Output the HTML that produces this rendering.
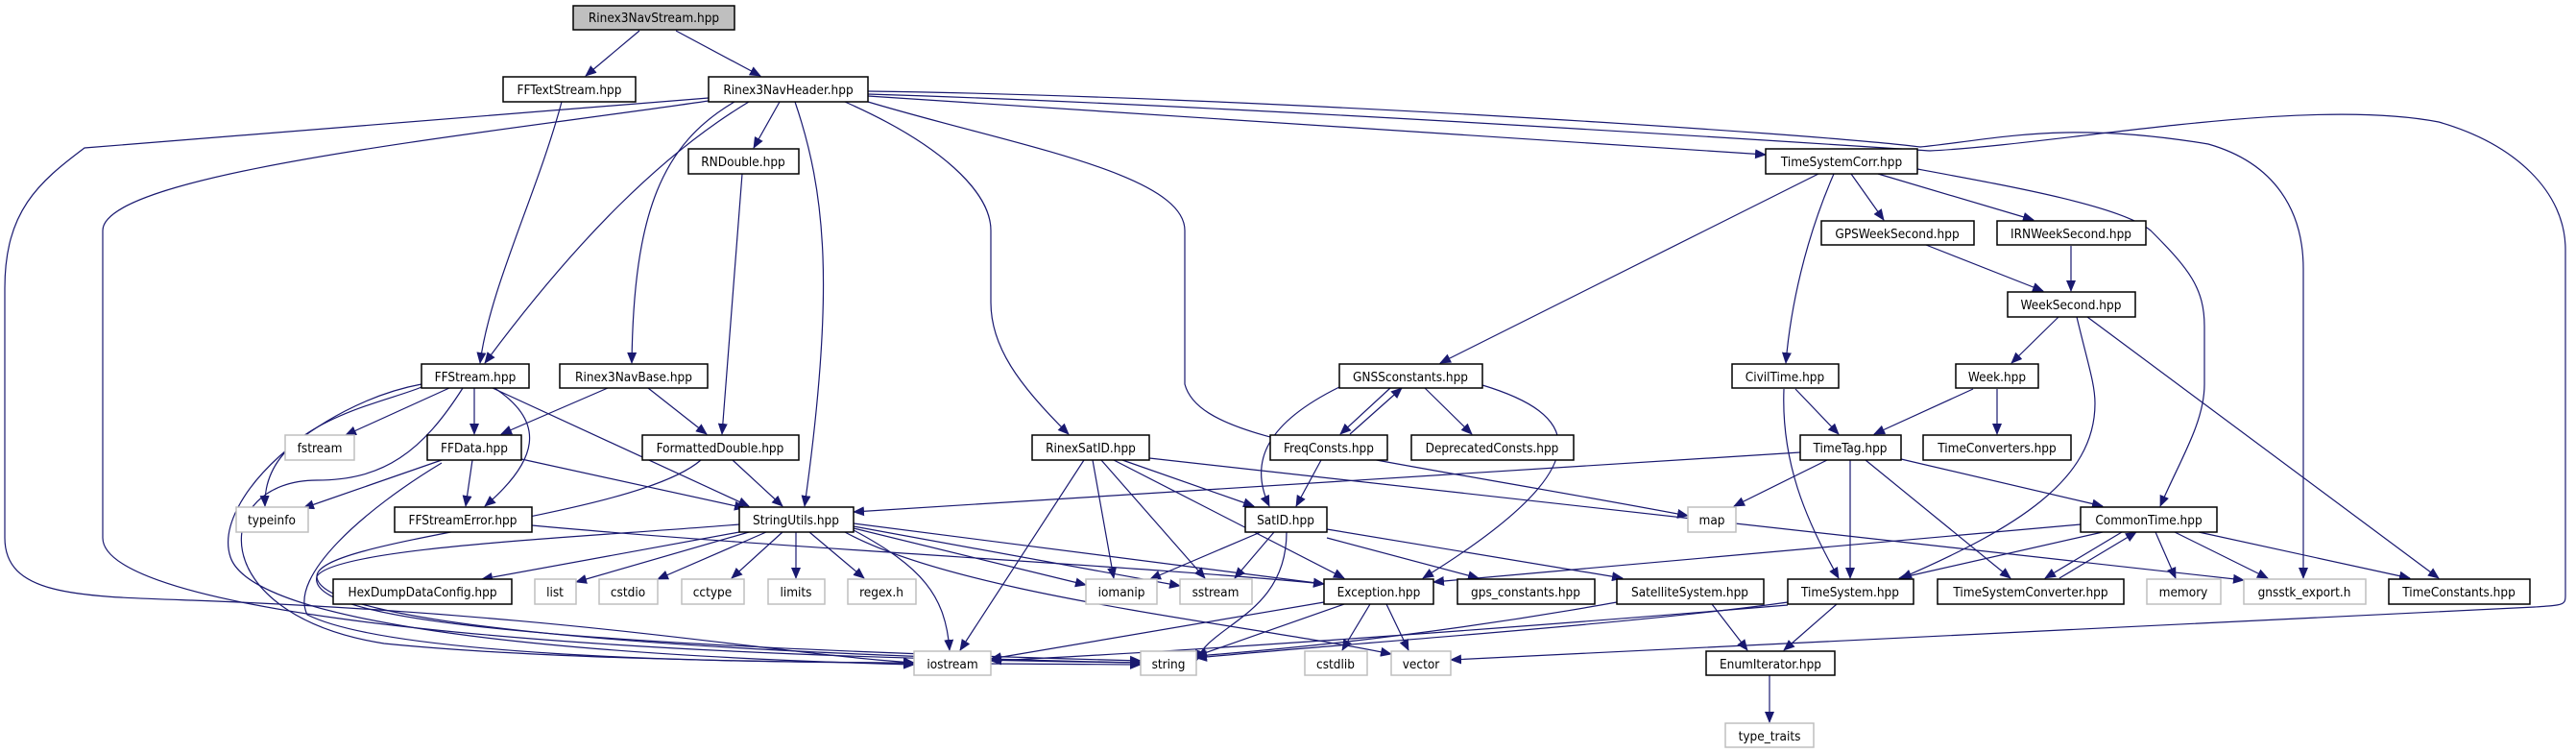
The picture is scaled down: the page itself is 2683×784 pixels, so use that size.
<!DOCTYPE html>
<html><head><meta charset="utf-8"><style>
html,body{margin:0;padding:0;background:#fff;width:2683px;height:784px;overflow:hidden}
svg text{font-family:"DejaVu Sans Condensed","Liberation Sans Narrow","Liberation Sans",sans-serif;font-size:13.5px;text-anchor:middle;fill:#000}
.n{fill:#fff;stroke:#000;stroke-width:1.5}
.g{fill:#fff;stroke:#bfbfbf;stroke-width:1.5}
.e{fill:none;stroke:#191970;stroke-width:1.2}
</style></head><body>
<svg width="2683" height="784" viewBox="0 0 2683 784" xmlns="http://www.w3.org/2000/svg">
<defs><marker id="a" markerWidth="12" markerHeight="10" refX="11" refY="5" orient="auto" markerUnits="userSpaceOnUse"><path d="M0,0 L12,5 L0,10 z" fill="#191970"/></marker></defs>
<g class="e" marker-end="url(#a)">
<path d="M666,32 L610,79"/>
<path d="M704,32 L792,79"/>
<path d="M585,106 C560,200 510,300 500,378"/>
<path d="M780,106 C690,160 600,250 505,378"/>
<path d="M812,106 L785,154"/>
<path d="M765,106 C690,150 660,220 658,378"/>
<path d="M828,106 C860,200 870,300 838,527"/>
<path d="M738,102 L88,154 C40,190 5,220 5,300 L5,560 C5,620 80,621 200,625 C600,640 800,680 952,690"/>
<path d="M738,105 C500,140 107,180 107,240 L107,560 C107,620 400,680 1188,690"/>
<path d="M880,106 C980,150 1032,200 1032,240 L1032,315 C1032,360 1060,400 1113,452"/>
<path d="M904,106 C1050,150 1234,180 1234,240 L1234,400 C1250,460 1400,470 1758,537"/>
<path d="M904,100 L1839,161"/>
<path d="M904,95 C1300,100 1900,140 2000,153 C2080,145 2150,125 2300,150 C2370,170 2399,220 2399,280 L2399,602"/>
<path d="M904,98 C1300,110 1900,150 2010,157 C2150,150 2400,100 2540,127 C2620,150 2672,200 2672,260 L2672,620 C2672,630 2670,630 2640,632 L1511,687"/>
<path d="M1894,181 L1500,378"/>
<path d="M1910,181 C1880,250 1865,320 1860,378"/>
<path d="M1928,181 L1962,229"/>
<path d="M1956,181 L2118,229"/>
<path d="M1997,176 C2100,195 2210,215 2240,240 C2280,280 2296,300 2296,340 L2296,400 C2296,440 2270,480 2250,527"/>
<path d="M2006,255 L2128,303"/>
<path d="M2157,256 L2157,303"/>
<path d="M2144,330 L2095,378"/>
<path d="M2163,330 C2175,380 2182,400 2182,420 C2182,500 2100,550 1980,602"/>
<path d="M2174,330 L2540,602"/>
<path d="M1870,405 L1915,452"/>
<path d="M1858,405 C1855,480 1880,540 1915,602"/>
<path d="M2055,405 L1952,452"/>
<path d="M2080,405 L2080,452"/>
<path d="M1903,479 L1806,527"/>
<path d="M1927,479 L1927,602"/>
<path d="M1943,479 L2094,602"/>
<path d="M1980,478 L2190,527"/>
<path d="M1875,471 L889,533"/>
<path d="M2167,546 L1493,606"/>
<path d="M2190,554 L1978,602"/>
<path d="M2210,554 L2130,602"/>
<path d="M2145,602 L2225,554"/>
<path d="M2245,554 L2266,602"/>
<path d="M2265,554 L2362,602"/>
<path d="M2290,554 L2510,602"/>
<path d="M1913,629 L1858,677"/>
<path d="M1862,627 C1700,650 1400,670 1246,685"/>
<path d="M1862,630 C1500,660 1200,680 1032,688"/>
<path d="M1783,629 L1820,677"/>
<path d="M1684,627 C1500,660 1350,675 1246,683"/>
<path d="M1379,627 L1032,686"/>
<path d="M1400,629 L1246,683"/>
<path d="M1427,629 L1398,677"/>
<path d="M1444,629 L1467,677"/>
<path d="M1843,703 L1843,752"/>
<path d="M1448,404 L1396,452"/>
<path d="M1406,452 L1460,404"/>
<path d="M1484,404 L1533,452"/>
<path d="M1395,403 C1320,440 1300,480 1322,527"/>
<path d="M1544,401 C1640,430 1680,480 1482,602"/>
<path d="M1376,479 L1350,527"/>
<path d="M1169,479 L1306,527"/>
<path d="M1129,479 L1000,677"/>
<path d="M1138,479 L1160,602"/>
<path d="M1147,479 L1255,602"/>
<path d="M1160,479 L1400,602"/>
<path d="M1197,477 L2337,604"/>
<path d="M1313,554 L1198,603"/>
<path d="M1327,554 L1286,602"/>
<path d="M1340,554 C1340,640 1260,650 1246,688"/>
<path d="M1382,560 L1540,602"/>
<path d="M1382,551 L1690,602"/>
<path d="M770,554 L502,603"/>
<path d="M780,554 L600,606"/>
<path d="M798,554 L685,603"/>
<path d="M815,554 L762,602"/>
<path d="M829,554 L829,602"/>
<path d="M843,554 L900,602"/>
<path d="M889,550 L1131,609"/>
<path d="M889,548 L1229,610"/>
<path d="M889,545 L1379,608"/>
<path d="M889,552 C960,590 985,620 989,677"/>
<path d="M880,554 C1000,620 1300,650 1449,681"/>
<path d="M770,546 C600,560 350,570 330,600 C320,640 500,670 1188,688"/>
<path d="M468,404 L360,453"/>
<path d="M494,404 L494,452"/>
<path d="M439,403 C400,420 273,440 276,527"/>
<path d="M515,404 C570,440 560,480 505,527"/>
<path d="M513,404 L780,527"/>
<path d="M439,400 C330,420 220,520 240,580 C260,640 500,680 952,692"/>
<path d="M482,404 C440,470 400,500 330,500 C220,500 210,640 400,670 C600,690 900,690 1188,692"/>
<path d="M633,404 L522,452"/>
<path d="M675,404 L736,452"/>
<path d="M773,181 L752,452"/>
<path d="M460,479 L316,529"/>
<path d="M492,479 L485,527"/>
<path d="M543,478 L776,529"/>
<path d="M460,482 C380,530 300,600 320,640 C400,680 700,690 952,690"/>
<path d="M763,479 L815,527"/>
<path d="M730,479 C660,540 330,560 330,600 C330,650 700,680 1188,690"/>
<path d="M554,547 C800,570 1200,590 1379,608"/>
</g>
<g>
<rect x="597" y="6" width="168" height="25" fill="#bfbfbf" stroke="#000" stroke-width="1.5"/><text x="681" y="23">Rinex3NavStream.hpp</text>
<rect class="n" x="524" y="80" width="138" height="26"/><text x="593" y="98">FFTextStream.hpp</text>
<rect class="n" x="738" y="80" width="166" height="26"/><text x="821" y="98">Rinex3NavHeader.hpp</text>
<rect class="n" x="717" y="155" width="115" height="26"/><text x="774" y="173">RNDouble.hpp</text>
<rect class="n" x="1839" y="155" width="158" height="26"/><text x="1918" y="173">TimeSystemCorr.hpp</text>
<rect class="n" x="1897" y="230" width="159" height="25"/><text x="1976" y="248">GPSWeekSecond.hpp</text>
<rect class="n" x="2080" y="230" width="155" height="25"/><text x="2157" y="248">IRNWeekSecond.hpp</text>
<rect class="n" x="2091" y="304" width="133" height="26"/><text x="2157" y="322">WeekSecond.hpp</text>
<rect class="n" x="439" y="379" width="112" height="25"/><text x="495" y="397">FFStream.hpp</text>
<rect class="n" x="583" y="379" width="154" height="25"/><text x="660" y="397">Rinex3NavBase.hpp</text>
<rect class="n" x="1395" y="379" width="149" height="25"/><text x="1469" y="397">GNSSconstants.hpp</text>
<rect class="n" x="1804" y="379" width="111" height="25"/><text x="1859" y="397">CivilTime.hpp</text>
<rect class="n" x="2037" y="379" width="86" height="25"/><text x="2080" y="397">Week.hpp</text>
<rect class="g" x="297" y="453" width="72" height="26"/><text x="333" y="471">fstream</text>
<rect class="n" x="445" y="453" width="98" height="26"/><text x="494" y="471">FFData.hpp</text>
<rect class="n" x="669" y="453" width="163" height="26"/><text x="750" y="471">FormattedDouble.hpp</text>
<rect class="n" x="1075" y="453" width="122" height="26"/><text x="1136" y="471">RinexSatID.hpp</text>
<rect class="n" x="1323" y="453" width="122" height="26"/><text x="1384" y="471">FreqConsts.hpp</text>
<rect class="n" x="1470" y="453" width="169" height="26"/><text x="1554" y="471">DeprecatedConsts.hpp</text>
<rect class="n" x="1875" y="453" width="105" height="26"/><text x="1927" y="471">TimeTag.hpp</text>
<rect class="n" x="2003" y="453" width="154" height="26"/><text x="2080" y="471">TimeConverters.hpp</text>
<rect class="g" x="246" y="528" width="75" height="26"/><text x="283" y="546">typeinfo</text>
<rect class="n" x="411" y="528" width="143" height="26"/><text x="482" y="546">FFStreamError.hpp</text>
<rect class="n" x="770" y="528" width="119" height="26"/><text x="829" y="546">StringUtils.hpp</text>
<rect class="n" x="1297" y="528" width="85" height="26"/><text x="1339" y="546">SatID.hpp</text>
<rect class="g" x="1758" y="528" width="50" height="26"/><text x="1783" y="546">map</text>
<rect class="n" x="2167" y="528" width="142" height="26"/><text x="2238" y="546">CommonTime.hpp</text>
<rect class="n" x="347" y="603" width="186" height="26"/><text x="440" y="621">HexDumpDataConfig.hpp</text>
<rect class="g" x="557" y="603" width="43" height="26"/><text x="578" y="621">list</text>
<rect class="g" x="624" y="603" width="61" height="26"/><text x="654" y="621">cstdio</text>
<rect class="g" x="710" y="603" width="65" height="26"/><text x="742" y="621">cctype</text>
<rect class="g" x="800" y="603" width="59" height="26"/><text x="829" y="621">limits</text>
<rect class="g" x="883" y="603" width="71" height="26"/><text x="918" y="621">regex.h</text>
<rect class="g" x="1131" y="603" width="74" height="26"/><text x="1168" y="621">iomanip</text>
<rect class="g" x="1229" y="603" width="75" height="26"/><text x="1266" y="621">sstream</text>
<rect class="n" x="1379" y="603" width="114" height="26"/><text x="1436" y="621">Exception.hpp</text>
<rect class="n" x="1518" y="603" width="143" height="26"/><text x="1589" y="621">gps_constants.hpp</text>
<rect class="n" x="1684" y="603" width="153" height="26"/><text x="1760" y="621">SatelliteSystem.hpp</text>
<rect class="n" x="1862" y="603" width="131" height="26"/><text x="1927" y="621">TimeSystem.hpp</text>
<rect class="n" x="2018" y="603" width="194" height="26"/><text x="2115" y="621">TimeSystemConverter.hpp</text>
<rect class="g" x="2236" y="603" width="77" height="26"/><text x="2274" y="621">memory</text>
<rect class="g" x="2337" y="603" width="127" height="26"/><text x="2400" y="621">gnsstk_export.h</text>
<rect class="n" x="2488" y="603" width="147" height="26"/><text x="2561" y="621">TimeConstants.hpp</text>
<rect class="g" x="952" y="678" width="80" height="25"/><text x="992" y="696">iostream</text>
<rect class="g" x="1188" y="678" width="58" height="25"/><text x="1217" y="696">string</text>
<rect class="g" x="1359" y="678" width="65" height="25"/><text x="1391" y="696">cstdlib</text>
<rect class="g" x="1449" y="678" width="62" height="25"/><text x="1480" y="696">vector</text>
<rect class="n" x="1777" y="678" width="134" height="25"/><text x="1844" y="696">EnumIterator.hpp</text>
<rect class="g" x="1797" y="753" width="92" height="25"/><text x="1843" y="771">type_traits</text>
</g>
</svg>
</body></html>
